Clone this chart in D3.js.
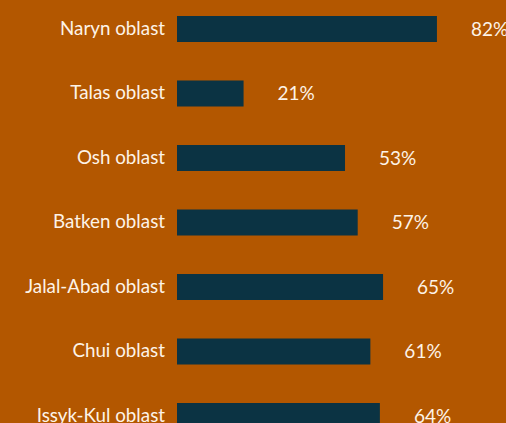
<!DOCTYPE html>
<html>
<head>
<meta charset="utf-8">
<script src="https://cdn.jsdelivr.net/npm/d3@7"></script>
<style>
  html, body { margin: 0; padding: 0; background: #b35700; }
  svg { display: block; }
  text { font-family: Lato, "Open Sans", sans-serif; fill: #fdf3e7; }
</style>
</head>
<body>
<svg id="chart" width="506" height="423"></svg>
<script>
// Share by region (%)
const regions = ["Naryn oblast", "Talas oblast", "Osh oblast", "Batken oblast",
                 "Jalal-Abad oblast", "Chui oblast", "Issyk-Kul oblast"];
const shares = [82, 21, 53, 57, 65, 61, 64];

const svg = d3.select("#chart");

const x = d3.scaleLinear().domain([0, 100]).range([177, 494]);
const y = d3.scaleBand().domain(regions).range([16, 429])
  .paddingInner(0.597).paddingOuter(0);

const rows = svg.selectAll("g.row")
  .data(regions.map((r, i) => ({ region: r, value: shares[i] })))
  .join("g").attr("class", "row");

rows.append("rect")
  .attr("x", x(0))
  .attr("y", d => y(d.region))
  .attr("width", d => x(d.value) - x(0))
  .attr("height", y.bandwidth())
  .attr("fill", "#0b3343");

rows.append("text")
  .attr("x", 165)
  .attr("y", d => y(d.region) + y.bandwidth() / 2)
  .attr("dy", "0.3em")
  .attr("text-anchor", "end")
  .style("font-size", "18.8px")
  .text(d => d.region);

rows.append("text")
  .attr("x", d => x(d.value) + 34)
  .attr("y", d => y(d.region) + y.bandwidth() / 2)
  .attr("dy", "0.36em")
  .attr("text-anchor", "start")
  .style("font-size", "19px")
  .text(d => d.value + "%");
</script>
</body>
</html>
